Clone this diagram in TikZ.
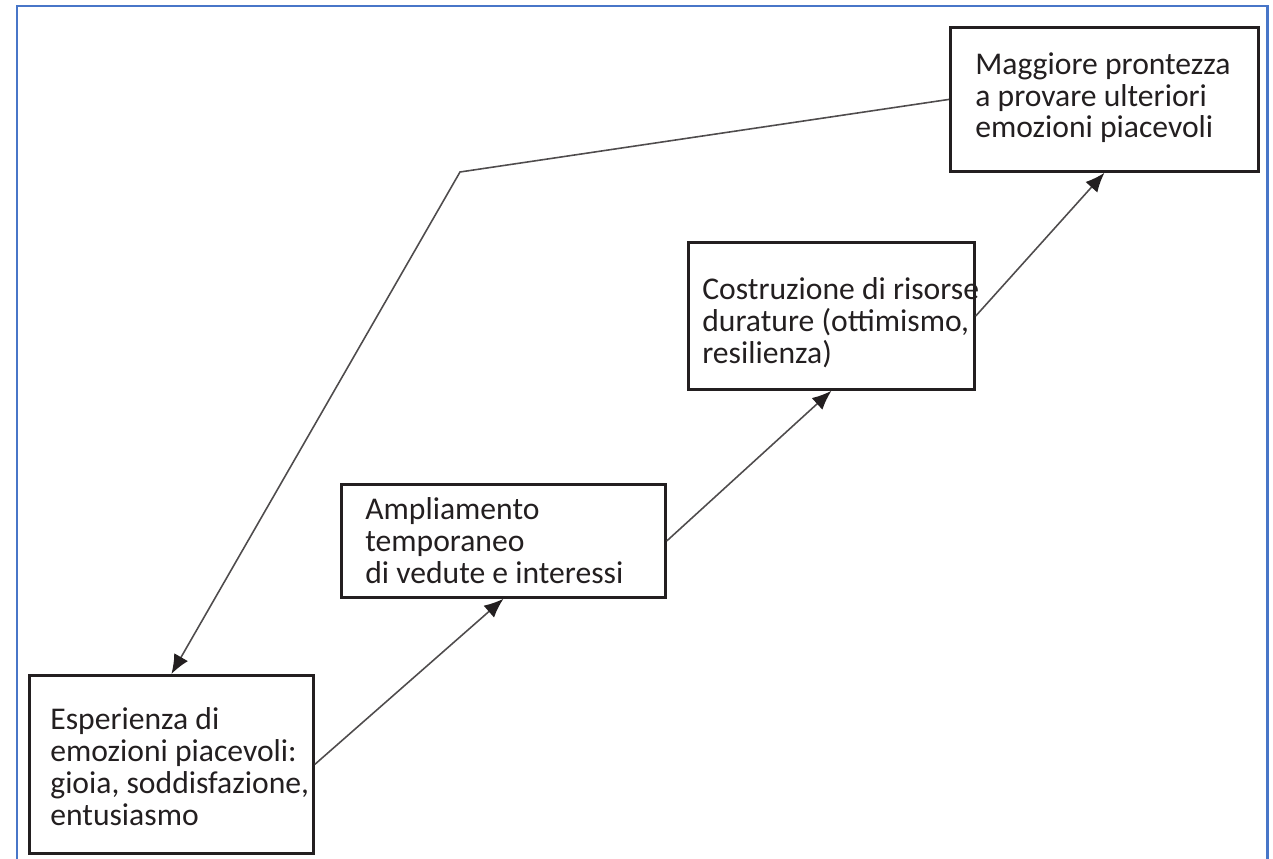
\documentclass[tikz,border=0pt]{standalone}
\usepackage{fontspec}
\setmainfont{Carlito}
\usetikzlibrary{arrows.meta}
\definecolor{framecol}{RGB}{72,118,200}
\definecolor{boxcol}{RGB}{35,31,32}
\tikzset{
  stepbox/.style={draw=boxcol, line width=1.6pt, inner sep=0pt, anchor=north west},
  steptext/.style={anchor=base west, inner sep=0pt, align=left, text=boxcol,
    font=\fontsize{18}{18.2}\selectfont},
  link/.style={draw=boxcol!80, line width=0.9pt, -{Latex[length=11pt,width=9pt,color=boxcol]}}
}
\begin{document}
\begin{tikzpicture}
	\useasboundingbox (0,0) rectangle (25.46,-17.18);
	\draw[framecol, line width=1.7pt] (0.34,-17.5)--(0.34,-0.12)--(25.34,-0.12)--(25.34,-17.5);
	% boxes
	\node[stepbox, minimum width=5.68cm, minimum height=3.56cm] (b1) at (0.56,-13.48) {};
	\node[stepbox, minimum width=6.48cm, minimum height=2.26cm] (b2) at (6.80,-9.66) {};
	\node[stepbox, minimum width=5.72cm, minimum height=2.94cm] (b3) at (13.74,-4.82) {};
	\node[stepbox, minimum width=6.16cm, minimum height=2.88cm] (b4) at (18.98,-0.52) {};
	% texts (anchored on the last line)
	\node[steptext] (t1) at (1.00,-16.50) {Esperienza di\\emozioni piacevoli:\\gioia, soddisfazione,\\entusiasmo};
	\node[steptext] (t2) at (7.30,-11.66) {Ampliamento\\temporaneo\\di vedute e interessi};
	\node[steptext] (t3) at (14.04,-7.26) {Costruzione di risorse\\durature (ottimismo,\\resilienza)};
	\node[steptext] (t4) at (19.50,-2.76) {Maggiore prontezza\\a provare ulteriori\\emozioni piacevoli};
	% arrows
	\coordinate (bend) at (9.2,-3.44);
	\draw[link] (b1.east)--(b2.south);
	\draw[link] (b2.east)--(b3.south);
	\draw[link] (b3.east)--(b4.south);
	\draw[link] (b4.west)--(bend)--(b1.north);
\end{tikzpicture}
\end{document}
